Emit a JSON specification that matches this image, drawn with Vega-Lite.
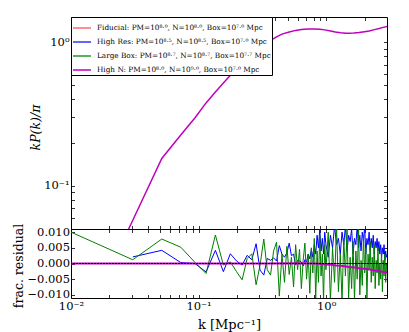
{
  "$schema": "https://vega.github.io/schema/vega-lite/v6.json",
  "background": "white",
  "padding": {"left": 11, "top": 16, "right": 5, "bottom": 0},
  "spacing": 0,
  "bounds": "flush",
  "resolve": {"scale": {"color": "independent"}, "legend": {"color": "independent"}},
  "datasets": {
    "pk": [
      {"s":"N","k":0.0095,"p":0.0065},{"s":"N","k":0.0305,"p":0.0575},{"s":"N","k":0.0515,"p":0.155},{"s":"N","k":0.0725,"p":0.226},
      {"s":"N","k":0.0935,"p":0.297},{"s":"N","k":0.1145,"p":0.378},{"s":"N","k":0.1355,"p":0.451},{"s":"N","k":0.1565,"p":0.52},
      {"s":"N","k":0.1775,"p":0.589},{"s":"N","k":0.1985,"p":0.658},{"s":"N","k":0.2405,"p":0.77},{"s":"N","k":0.2825,"p":0.86},
      {"s":"N","k":0.3245,"p":0.95},{"s":"N","k":0.3665,"p":1.03},{"s":"N","k":0.4085,"p":1.09},{"s":"N","k":0.4505,"p":1.14},
      {"s":"N","k":0.5135,"p":1.18},{"s":"N","k":0.5765,"p":1.21},{"s":"N","k":0.6395,"p":1.227},{"s":"N","k":0.7235,"p":1.237},
      {"s":"N","k":0.8075,"p":1.238},{"s":"N","k":0.8915,"p":1.23},{"s":"N","k":0.9755,"p":1.22},{"s":"N","k":1.0595,"p":1.205},
      {"s":"N","k":1.18,"p":1.18},{"s":"N","k":1.3,"p":1.165},{"s":"N","k":1.43,"p":1.157},{"s":"N","k":1.51,"p":1.156},
      {"s":"N","k":1.65,"p":1.16},{"s":"N","k":1.81,"p":1.169},{"s":"N","k":2.0,"p":1.185},{"s":"N","k":2.17,"p":1.2},
      {"s":"N","k":2.4,"p":1.225},{"s":"N","k":2.6,"p":1.247},{"s":"N","k":2.8,"p":1.27},{"s":"N","k":3.0,"p":1.29}
    ],
    "res": [
      {"s":"F","k":0.01,"r":0},{"s":"F","k":3.0,"r":0},
      {"s":"H","k":0.0305,"r":0.0021},{"s":"H","k":0.0515,"r":0.0042},{"s":"H","k":0.0725,"r":0.0003},{"s":"H","k":0.0935,"r":0.0},
      {"s":"H","k":0.1145,"r":-0.0027},{"s":"H","k":0.1355,"r":0.0042},{"s":"H","k":0.1565,"r":-0.0026},{"s":"H","k":0.1775,"r":0.0031},
      {"s":"H","k":0.1985,"r":0.0008},{"s":"H","k":0.2195,"r":-0.0005},{"s":"H","k":0.2405,"r":0.0026},{"s":"H","k":0.2615,"r":0.0012},
      {"s":"H","k":0.2825,"r":0.0063},{"s":"H","k":0.3035,"r":-0.0021},{"s":"H","k":0.3245,"r":-0.0037},{"s":"H","k":0.3455,"r":0.0016},
      {"s":"H","k":0.3665,"r":0.001},{"s":"H","k":0.3875,"r":0.0018},{"s":"H","k":0.4085,"r":0.0008},{"s":"H","k":0.4295,"r":0.0057},
      {"s":"H","k":0.4505,"r":0.003},{"s":"H","k":0.4715,"r":0.002},{"s":"H","k":0.4925,"r":0.0034},{"s":"H","k":0.5135,"r":0.0065},
      {"s":"H","k":0.5345,"r":0.0025},{"s":"H","k":0.5555,"r":0.003},{"s":"H","k":0.5765,"r":-0.0005},{"s":"H","k":0.5975,"r":0.001},
      {"s":"H","k":0.6185,"r":0.0008},{"s":"H","k":0.6395,"r":0.0005},{"s":"H","k":0.6605,"r":-0.0008},{"s":"H","k":0.6815,"r":0.0012},
      {"s":"H","k":0.7025,"r":0.0005},{"s":"H","k":0.7235,"r":0.003},{"s":"H","k":0.7445,"r":0.0015},{"s":"H","k":0.7655,"r":0.0045},
      {"s":"H","k":0.7865,"r":0.002},{"s":"H","k":0.8075,"r":0.006},{"s":"H","k":0.8285,"r":0.003},{"s":"H","k":0.8495,"r":0.009},
      {"s":"H","k":0.8705,"r":0.005},{"s":"H","k":0.8915,"r":0.011},{"s":"H","k":0.9125,"r":0.004},{"s":"H","k":0.9335,"r":0.008},
      {"s":"H","k":0.9545,"r":0.003},{"s":"H","k":0.9755,"r":0.01},{"s":"H","k":0.9965,"r":0.006},{"s":"H","k":1.0385,"r":0.002},
      {"s":"H","k":1.0805,"r":0.009},{"s":"H","k":1.1225,"r":0.005},{"s":"H","k":1.1645,"r":0.012},{"s":"H","k":1.2065,"r":0.006},
      {"s":"H","k":1.2485,"r":0.008},{"s":"H","k":1.2905,"r":0.003},{"s":"H","k":1.3325,"r":0.01},{"s":"H","k":1.3745,"r":0.006},
      {"s":"H","k":1.4165,"r":0.012},{"s":"H","k":1.4585,"r":0.004},{"s":"H","k":1.5005,"r":0.009},{"s":"H","k":1.5425,"r":0.007},
      {"s":"H","k":1.5845,"r":0.011},{"s":"H","k":1.6265,"r":0.003},{"s":"H","k":1.6685,"r":0.008},{"s":"H","k":1.7105,"r":0.006},
      {"s":"H","k":1.7525,"r":0.012},{"s":"H","k":1.7945,"r":0.005},{"s":"H","k":1.8365,"r":0.009},{"s":"H","k":1.8785,"r":0.004},
      {"s":"H","k":1.9205,"r":0.01},{"s":"H","k":1.9625,"r":0.007},{"s":"H","k":2.0045,"r":0.012},{"s":"H","k":2.0465,"r":0.003},
      {"s":"H","k":2.0885,"r":0.008},{"s":"H","k":2.1305,"r":0.006},{"s":"H","k":2.1725,"r":0.01},{"s":"H","k":2.2145,"r":0.004},
      {"s":"H","k":2.2565,"r":0.008},{"s":"H","k":2.2985,"r":0.005},{"s":"H","k":2.3405,"r":0.009},{"s":"H","k":2.3825,"r":0.003},
      {"s":"H","k":2.4245,"r":0.007},{"s":"H","k":2.4665,"r":0.005},{"s":"H","k":2.5085,"r":0.008},{"s":"H","k":2.5505,"r":0.004},
      {"s":"H","k":2.5925,"r":0.007},{"s":"H","k":2.6345,"r":0.003},{"s":"H","k":2.6765,"r":0.006},{"s":"H","k":2.7185,"r":0.002},
      {"s":"H","k":2.7605,"r":0.005},{"s":"H","k":2.8025,"r":0.003},{"s":"H","k":2.8445,"r":0.006},{"s":"H","k":2.8865,"r":0.001},
      {"s":"H","k":2.9285,"r":0.004},{"s":"H","k":2.9705,"r":0.002},{"s":"H","k":3.0125,"r":0.003},
      {"s":"L","k":0.01,"r":0.01},{"s":"L","k":0.0305,"r":0.0012},{"s":"L","k":0.0515,"r":0.0078},{"s":"L","k":0.0725,"r":0.0052},
      {"s":"L","k":0.0935,"r":0.0004},{"s":"L","k":0.1145,"r":-0.0032},{"s":"L","k":0.1355,"r":0.0091},{"s":"L","k":0.1565,"r":-0.0005},
      {"s":"L","k":0.1775,"r":0.0005},{"s":"L","k":0.1985,"r":-0.0026},{"s":"L","k":0.2195,"r":-0.0052},{"s":"L","k":0.2405,"r":0.0016},
      {"s":"L","k":0.2615,"r":0.0031},{"s":"L","k":0.2825,"r":-0.0068},{"s":"L","k":0.3035,"r":-0.0005},{"s":"L","k":0.3245,"r":0.0078},
      {"s":"L","k":0.3455,"r":-0.002},{"s":"L","k":0.3665,"r":-0.0037},{"s":"L","k":0.3875,"r":0.004},{"s":"L","k":0.4085,"r":0.0068},
      {"s":"L","k":0.4295,"r":-0.0104},{"s":"L","k":0.4505,"r":0.003},{"s":"L","k":0.4715,"r":-0.006},{"s":"L","k":0.4925,"r":0.0055},
      {"s":"L","k":0.5135,"r":-0.0035},{"s":"L","k":0.5345,"r":0.002},{"s":"L","k":0.5555,"r":-0.0075},{"s":"L","k":0.5765,"r":0.006},
      {"s":"L","k":0.5975,"r":-0.002},{"s":"L","k":0.6185,"r":0.0045},{"s":"L","k":0.6395,"r":-0.008},{"s":"L","k":0.6605,"r":0.001},
      {"s":"L","k":0.6815,"r":0.0065},{"s":"L","k":0.7025,"r":-0.005},{"s":"L","k":0.7235,"r":0.003},{"s":"L","k":0.7445,"r":-0.0095},
      {"s":"L","k":0.7655,"r":0.005},{"s":"L","k":0.7865,"r":-0.003},{"s":"L","k":0.8075,"r":0.008},{"s":"L","k":0.8285,"r":-0.011},
      {"s":"L","k":0.8495,"r":0.004},{"s":"L","k":0.8705,"r":-0.006},{"s":"L","k":0.8915,"r":0.009},{"s":"L","k":0.9125,"r":-0.004},
      {"s":"L","k":0.9335,"r":0.003},{"s":"L","k":0.9545,"r":-0.012},{"s":"L","k":0.9755,"r":0.006},{"s":"L","k":0.9965,"r":-0.002},
      {"s":"L","k":1.0385,"r":0.01},{"s":"L","k":1.0805,"r":-0.012},{"s":"L","k":1.1225,"r":0.005},{"s":"L","k":1.1645,"r":-0.006},
      {"s":"L","k":1.2065,"r":0.012},{"s":"L","k":1.2485,"r":-0.009},{"s":"L","k":1.2905,"r":0.003},{"s":"L","k":1.3325,"r":-0.012},
      {"s":"L","k":1.3745,"r":0.008},{"s":"L","k":1.4165,"r":-0.004},{"s":"L","k":1.4585,"r":0.011},{"s":"L","k":1.5005,"r":-0.011},
      {"s":"L","k":1.5425,"r":0.002},{"s":"L","k":1.5845,"r":-0.008},{"s":"L","k":1.6265,"r":0.007},{"s":"L","k":1.6685,"r":-0.012},
      {"s":"L","k":1.7105,"r":0.004},{"s":"L","k":1.7525,"r":-0.005},{"s":"L","k":1.7945,"r":0.012},{"s":"L","k":1.8365,"r":-0.01},
      {"s":"L","k":1.8785,"r":0.001},{"s":"L","k":1.9205,"r":-0.007},{"s":"L","k":1.9625,"r":0.009},{"s":"L","k":2.0045,"r":-0.003},
      {"s":"L","k":2.0465,"r":0.005},{"s":"L","k":2.0885,"r":-0.011},{"s":"L","k":2.1305,"r":0.003},{"s":"L","k":2.1725,"r":-0.002},
      {"s":"L","k":2.2145,"r":0.007},{"s":"L","k":2.2565,"r":-0.006},{"s":"L","k":2.2985,"r":0.002},{"s":"L","k":2.3405,"r":-0.004},
      {"s":"L","k":2.3825,"r":0.006},{"s":"L","k":2.4245,"r":-0.008},{"s":"L","k":2.4665,"r":0.001},{"s":"L","k":2.5085,"r":-0.003},
      {"s":"L","k":2.5505,"r":0.005},{"s":"L","k":2.5925,"r":-0.007},{"s":"L","k":2.6345,"r":0.0},{"s":"L","k":2.6765,"r":-0.005},
      {"s":"L","k":2.7185,"r":0.004},{"s":"L","k":2.7605,"r":-0.009},{"s":"L","k":2.8025,"r":0.001},{"s":"L","k":2.8445,"r":-0.004},
      {"s":"L","k":2.8865,"r":0.003},{"s":"L","k":2.9285,"r":-0.006},{"s":"L","k":2.9705,"r":0.0},{"s":"L","k":3.0125,"r":-0.003},
      {"s":"N","k":0.01,"r":0},{"s":"N","k":0.1,"r":0},{"s":"N","k":0.3,"r":0},{"s":"N","k":0.6,"r":0.0001},{"s":"N","k":0.8,"r":0},
      {"s":"N","k":0.9,"r":-0.0001},{"s":"N","k":1.0,"r":-0.0003},{"s":"N","k":1.1,"r":-0.0004},{"s":"N","k":1.2,"r":-0.0006},
      {"s":"N","k":1.3,"r":-0.0007},{"s":"N","k":1.4,"r":-0.0009},{"s":"N","k":1.5,"r":-0.0011},{"s":"N","k":1.6,"r":-0.0012},
      {"s":"N","k":1.7,"r":-0.0013},{"s":"N","k":1.8,"r":-0.0015},{"s":"N","k":1.9,"r":-0.0016},{"s":"N","k":2.0,"r":-0.0017},
      {"s":"N","k":2.2,"r":-0.0019},{"s":"N","k":2.4,"r":-0.0022},{"s":"N","k":2.6,"r":-0.0024},{"s":"N","k":2.8,"r":-0.0027},
      {"s":"N","k":3.0,"r":-0.0029}
    ]
  },
  "vconcat": [
    {
      "width": 316,
      "height": 212,
      "data": {"name": "pk"},
      "layer": [
        {
          "mark": {"type": "line", "clip": true, "strokeWidth": 1.5},
          "encoding": {
            "x": {"field": "k", "type": "quantitative",
              "scale": {"type": "log", "domain": [0.01, 3.0], "nice": false},
              "axis": {"orient": "bottom", "labels": false, "title": null,
                "values": [0.01,0.02,0.03,0.04,0.05,0.06,0.07,0.08,0.09,0.1,0.2,0.3,0.4,0.5,0.6,0.7,0.8,0.9,1,2]}},
            "y": {"field": "p", "type": "quantitative",
              "scale": {"type": "log", "domain": [0.05, 1.5], "nice": false},
              "axis": {"orient": "left", "title": "kP(k)/π", "titleFontStyle": "italic", "labelPadding": 5.5,
                "titleX": -36, "titleY": 110, "titleAngle": -90, "titleBaseline": "middle", "titleAlign": "center",
                "values": [0.06,0.07,0.08,0.09,0.1,0.2,0.3,0.4,0.5,0.6,0.7,0.8,0.9,1],
                "labelExpr": "datum.value == 1 ? '10⁰' : (datum.value == 0.1 ? '10⁻¹' : '')"}},
            "color": {"field": "s", "type": "nominal",
              "scale": {"domain": ["F", "H", "L", "N"], "range": ["#ff6a6a", "#3333ff", "#229922", "#bf00bf"]},
              "legend": {"orient": "top-left", "offset": 0, "title": null,
                "labelExpr": "datum.value == 'F' ? 'Fiducial: PM=10⁸·⁰, N=10⁸·⁰, Box=10⁷·⁰ Mpc' : datum.value == 'H' ? 'High Res: PM=10⁸·⁵, N=10⁸·⁵, Box=10⁷·⁰ Mpc' : datum.value == 'L' ? 'Large Box: PM=10⁸·⁷, N=10⁸·⁷, Box=10⁷·⁷ Mpc' : 'High N: PM=10⁸·⁰, N=10⁹·⁰, Box=10⁷·⁰ Mpc'"}}
          }
        },
        {
          "mark": {"type": "point", "opacity": 0},
          "encoding": {
            "x": {"field": "k", "type": "quantitative",
              "scale": {"type": "log", "domain": [0.01, 3.0], "nice": false},
              "axis": {"orient": "top", "labels": false, "title": null,
                "values": [0.01,0.02,0.03,0.04,0.05,0.06,0.07,0.08,0.09,0.1,0.2,0.3,0.4,0.5,0.6,0.7,0.8,0.9,1,2]}},
            "y": {"field": "p", "type": "quantitative",
              "scale": {"type": "log", "domain": [0.05, 1.5], "nice": false},
              "axis": {"orient": "right", "labels": false, "title": null,
                "values": [0.06,0.07,0.08,0.09,0.1,0.2,0.3,0.4,0.5,0.6,0.7,0.8,0.9,1]}}
          }
        }
      ],
      "resolve": {"axis": {"x": "independent", "y": "independent"}}
    },
    {
      "width": 316,
      "height": 69,
      "data": {"name": "res"},
      "layer": [
        {
          "transform": [{"filter": "datum.s != 'N'"}],
          "mark": {"type": "line", "clip": true, "strokeWidth": 1},
          "encoding": {
            "x": {"field": "k", "type": "quantitative",
              "scale": {"type": "log", "domain": [0.01, 3.0], "nice": false},
              "axis": {"orient": "bottom", "title": "k [Mpc⁻¹]", "titleFontSize": 13, "titleY": 26, "titleBaseline": "middle",
                "labelPadding": 5.5,
                "values": [0.01,0.02,0.03,0.04,0.05,0.06,0.07,0.08,0.09,0.1,0.2,0.3,0.4,0.5,0.6,0.7,0.8,0.9,1,2],
                "labelExpr": "datum.value == 1 ? '10⁰' : (datum.value == 0.1 ? '10⁻¹' : (datum.value == 0.01 ? '10⁻²' : ''))"}},
            "y": {"field": "r", "type": "quantitative",
              "scale": {"domain": [-0.011, 0.011], "nice": false, "zero": false},
              "axis": {"orient": "left", "title": "frac. residual", "format": ".3f", "labelPadding": 5,
                "titleX": -52.5, "titleY": 36.5, "titleAngle": -90, "titleBaseline": "middle", "titleAlign": "center",
                "values": [-0.01, -0.005, 0, 0.005, 0.01]}},
            "color": {"field": "s", "type": "nominal",
              "scale": {"domain": ["F", "H", "L", "N"], "range": ["#ff0000", "#0000ff", "#007f00", "#bf00bf"]},
              "legend": null}
          }
        },
        {
          "transform": [{"filter": "datum.s == 'N'"}],
          "mark": {"type": "line", "clip": true, "strokeWidth": 2, "color": "#bf00bf"},
          "encoding": {
            "x": {"field": "k", "type": "quantitative", "axis": null},
            "y": {"field": "r", "type": "quantitative", "axis": null}
          }
        },
        {
          "mark": {"type": "rule", "color": "black", "strokeDash": [1.5, 1.5], "strokeWidth": 1},
          "encoding": {"y": {"datum": 0, "type": "quantitative", "axis": null}}
        },
        {
          "mark": {"type": "point", "opacity": 0},
          "encoding": {
            "x": {"field": "k", "type": "quantitative",
              "axis": {"orient": "top", "labels": false, "title": null,
                "values": [0.01,0.02,0.03,0.04,0.05,0.06,0.07,0.08,0.09,0.1,0.2,0.3,0.4,0.5,0.6,0.7,0.8,0.9,1,2]}},
            "y": {"field": "r", "type": "quantitative",
              "axis": {"orient": "right", "labels": false, "title": null,
                "values": [-0.01, -0.005, 0, 0.005, 0.01]}}
          }
        }
      ],
      "resolve": {"axis": {"x": "independent", "y": "independent"}}
    }
  ],
  "config": {
    "view": {"stroke": "black", "strokeWidth": 1},
    "font": "DejaVu Serif",
    "axis": {
      "domain": false, "grid": false, "tickColor": "black", "tickSize": -3.5, "tickWidth": 0.8,
      "labelFont": "DejaVu Serif", "labelFontSize": 11.5, "labelColor": "black", "labelPadding": 7,
      "labelOverlap": false, "labelFlush": false, "labelBound": false,
      "titleFont": "DejaVu Serif", "titleFontSize": 12.5, "titleFontWeight": "normal", "titleColor": "black"
    },
    "legend": {
      "fillColor": "white", "strokeColor": "black", "padding": 1,
      "symbolType": "stroke", "symbolSize": 324, "symbolStrokeWidth": 1.5,
      "labelFont": "DejaVu Serif", "labelFontSize": 7.3, "labelColor": "black", "labelOffset": 5,
      "rowPadding": -5.6, "labelLimit": 400
    }
  }
}
